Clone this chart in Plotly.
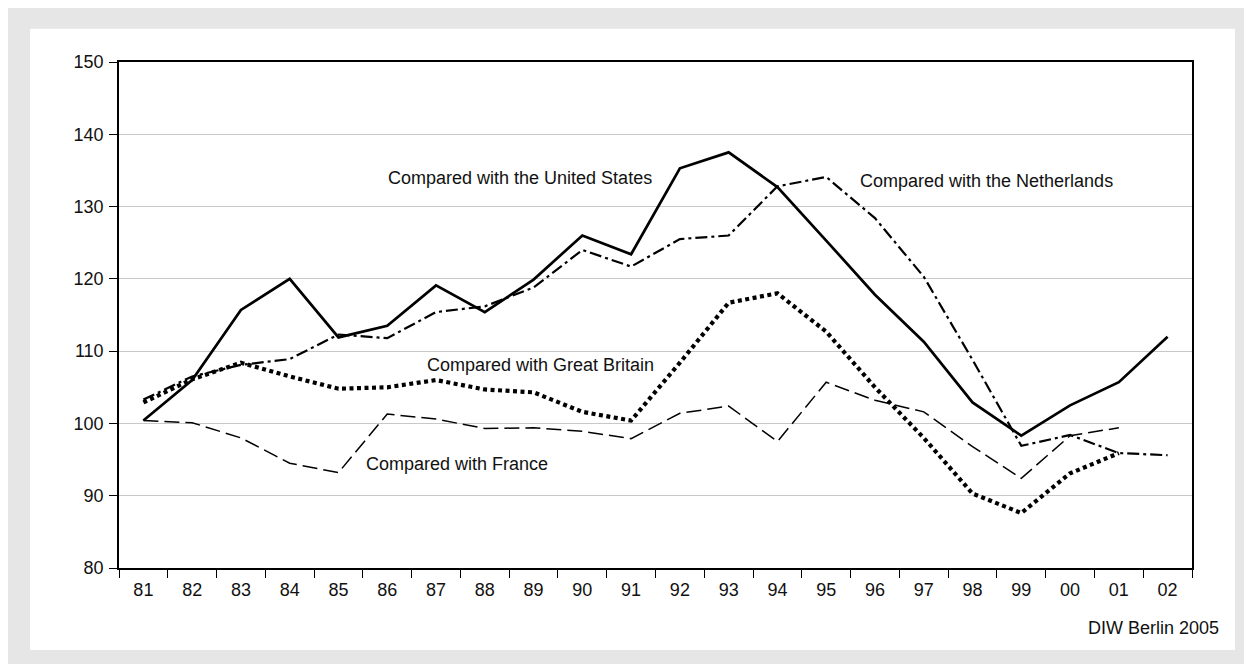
import plotly.graph_objects as go

years = ["81", "82", "83", "84", "85", "86", "87", "88", "89", "90", "91",
         "92", "93", "94", "95", "96", "97", "98", "99", "00", "01", "02"]

united_states = [100.4, 106.0, 115.7, 120.0, 111.9, 113.5, 119.1, 115.4, 119.9, 126.0, 123.4,
                 135.3, 137.5, 132.7, 125.3, 117.8, 111.3, 102.9, 98.3, 102.5, 105.7, 112.0]
netherlands = [103.3, 106.5, 108.1, 108.9, 112.3, 111.8, 115.4, 116.2, 118.8, 124.0, 121.7,
               125.5, 126.0, 132.8, 134.1, 128.4, 120.3, 108.8, 96.9, 98.4, 95.9, 95.6]
great_britain = [102.9, 106.1, 108.4, 106.5, 104.8, 105.0, 106.0, 104.7, 104.3, 101.6, 100.4,
                 108.4, 116.7, 118.0, 112.7, 105.0, 98.0, 90.3, 87.6, 93.1, 95.9, None]
france = [100.4, 100.1, 98.0, 94.5, 93.2, 101.3, 100.6, 99.3, 99.4, 98.9, 97.9,
          101.4, 102.4, 97.5, 105.7, 103.2, 101.6, 96.8, 92.4, 98.3, 99.4, None]

labels = ["Compared with the United States", "Compared with the Netherlands",
          "Compared with Great Britain", "Compared with France"]

FONT = "Liberation Sans, Arial, Helvetica, sans-serif"

fig = go.Figure()
fig.add_trace(go.Scatter(x=years, y=france, mode="lines", name=labels[3],
                         line=dict(color="black", width=1.5, dash="15px,6px")))
fig.add_trace(go.Scatter(x=years, y=great_britain, mode="lines", name=labels[2],
                         line=dict(color="black", width=4.2, dash="4px,3.5px")))
fig.add_trace(go.Scatter(x=years, y=netherlands, mode="lines", name=labels[1],
                         line=dict(color="black", width=2.2, dash="12px,4px,3px,4px")))
fig.add_trace(go.Scatter(x=years, y=united_states, mode="lines", name=labels[0],
                         line=dict(color="black", width=2.7)))

# background frames
fig.add_shape(type="rect", xref="paper", yref="paper", x0=-0.1034, x1=1.07, y0=-0.215, y1=1.109,
              fillcolor="#e6e6e6", line=dict(width=0), layer="below")
fig.add_shape(type="rect", xref="paper", yref="paper", x0=-0.0829, x1=1.0401, y0=-0.1622, y1=1.0658,
              fillcolor="white", line=dict(width=0), layer="below")

ann_font = dict(family=FONT, size=18, color="#111")
fig.add_annotation(text=labels[0], xref="paper", yref="paper", x=0.2488, y=0.771,
                   xanchor="left", yanchor="middle", showarrow=False, font=ann_font)
fig.add_annotation(text=labels[1], xref="paper", yref="paper", x=0.6884, y=0.764,
                   xanchor="left", yanchor="middle", showarrow=False, font=ann_font)
fig.add_annotation(text=labels[2], xref="paper", yref="paper", x=0.2852, y=0.4014,
                   xanchor="left", yanchor="middle", showarrow=False, font=ann_font)
fig.add_annotation(text=labels[3], xref="paper", yref="paper", x=0.2283, y=0.2057,
                   xanchor="left", yanchor="middle", showarrow=False, font=ann_font)
fig.add_annotation(text="DIW Berlin 2005", xref="paper", yref="paper", x=1.027, y=-0.118,
                   xanchor="right", yanchor="middle", showarrow=False, font=ann_font)

fig.update_layout(
    width=1252, height=664,
    margin=dict(l=111, r=68, t=54, b=104),
    paper_bgcolor="white",
    plot_bgcolor="rgba(0,0,0,0)",
    showlegend=False,
    font=dict(family=FONT, size=18, color="#111"),
)
fig.update_xaxes(type="category", range=[-0.5, len(years) - 0.5], tickson="boundaries",
                 ticks="outside", ticklen=8, tickcolor="black", showline=True,
                 linecolor="black", linewidth=1.5, mirror=True, showgrid=False,
                 tickfont=dict(size=18), ticklabelstandoff=5)
fig.update_yaxes(range=[80, 150], dtick=10, ticks="outside", ticklen=8, tickcolor="black",
                 showline=True, linecolor="black", linewidth=1.5, mirror=True,
                 showgrid=True, gridcolor="#c8c8c8", gridwidth=1, zeroline=False,
                 tickfont=dict(size=18), ticklabelstandoff=2)

fig.write_html("out.html")
